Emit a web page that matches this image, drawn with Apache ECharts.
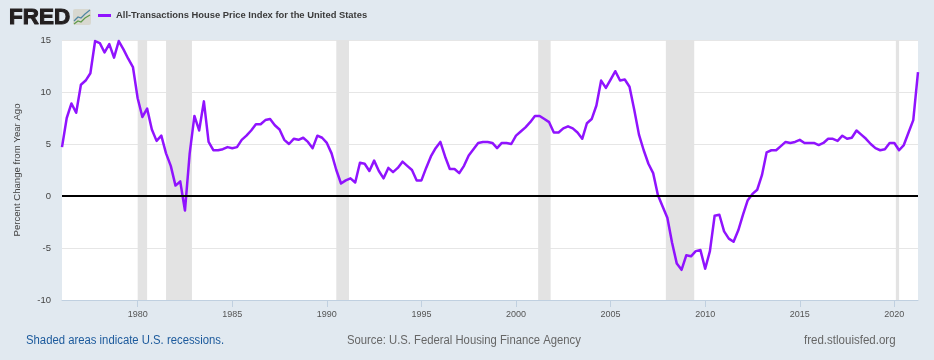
<!DOCTYPE html>
<html>
<head>
<meta charset="utf-8">
<title>All-Transactions House Price Index</title>
<style>
  html, body { margin: 0; padding: 0; background: #e1e9f0; }
  #chart { width: 934px; height: 360px; }
</style>
<script src="https://cdn.jsdelivr.net/npm/echarts@6/dist/echarts.min.js"></script>
</head>
<body>
<div id="chart"></div>
<script>
// percent change from year ago, quarterly, 1976 Q1 onward
const hpiValues = [
  4.7, 7.5, 8.9, 8.0, 10.7, 11.1, 11.8, 14.9, 14.7, 13.8, 14.6, 13.3,
  14.9, 14.1, 13.2, 12.4, 9.4, 7.6, 8.4, 6.4, 5.3, 5.8, 4.1, 2.9,
  1.0, 1.4, -1.4, 4.1, 7.7, 6.3, 9.1, 5.2, 4.4, 4.4, 4.5, 4.7,
  4.6, 4.7, 5.4, 5.8, 6.3, 6.9, 6.9, 7.3, 7.4, 6.8, 6.4, 5.4,
  5.0, 5.5, 5.4, 5.6, 5.2, 4.6, 5.8, 5.6, 5.1, 4.1, 2.5, 1.2,
  1.5, 1.7, 1.3, 3.2, 3.1, 2.4, 3.4, 2.4, 1.7, 2.7, 2.3, 2.7,
  3.3, 2.9, 2.5, 1.5, 1.5, 2.7, 3.8, 4.6, 5.2, 3.8, 2.6, 2.6,
  2.2, 2.9, 3.9, 4.5, 5.1, 5.2, 5.2, 5.1, 4.6, 5.1, 5.1, 5.0,
  5.8, 6.2, 6.6, 7.1, 7.7, 7.7, 7.4, 7.1, 6.1, 6.1, 6.5, 6.7,
  6.5, 6.1, 5.5, 7.0, 7.4, 8.7, 11.1, 10.4, 11.2, 12.0, 11.1, 11.2,
  10.5, 8.3, 5.9, 4.4, 3.1, 2.2, 0.1, -1.0, -2.1, -4.5, -6.5, -7.1,
  -5.7, -5.8, -5.3, -5.2, -7.0, -5.3, -1.9, -1.8, -3.4, -4.1, -4.4, -3.3,
  -1.8, -0.4, 0.2, 0.6, 2.0, 4.2, 4.4, 4.4, 4.8, 5.2, 5.1, 5.2,
  5.4, 5.1, 5.1, 5.1, 4.9, 5.1, 5.5, 5.5, 5.3, 5.8, 5.5, 5.6,
  6.3, 5.9, 5.5, 5.0, 4.6, 4.4, 4.5, 5.1, 5.1, 4.4, 4.9, 6.1,
  7.3, 11.9
];
// recession start/end as decimal years
const recessions = [
  [1980.0, 1980.5],
  [1981.5, 1982.87],
  [1990.5, 1991.17],
  [2001.17, 2001.83],
  [2007.92, 2009.42],
  [2020.08, 2020.25],
];
const tickYears = [1980, 1985, 1990, 1995, 2000, 2005, 2010, 2015, 2020];
const seriesName = "All-Transactions House Price Index for the United States";

const startYear = 1976;
const points = hpiValues.map((v, i) => [startYear + i / 4, v]);

const chart = echarts.init(document.getElementById("chart"), null, { renderer: "canvas" });
chart.setOption({
  animation: false,
  backgroundColor: "#e1e9f0",
  textStyle: { fontFamily: "Liberation Sans" },
  grid: {
    left: 62,
    right: 16,
    top: 40,
    bottom: 60,
    show: true,
    backgroundColor: "#ffffff",
    borderWidth: 0,
  },
  legend: {
    data: [seriesName],
    left: 93,
    top: 6,
    itemWidth: 13,
    itemHeight: 3,
    itemGap: 2,
    icon: "rect",
    textStyle: { fontSize: 9.4, fontWeight: "bold", color: "#3b3b3b", fontFamily: "Liberation Sans" },
  },
  xAxis: {
    type: "value",
    min: 1976,
    max: 2021.25,
    axisLine: { show: true, onZero: false, lineStyle: { color: "#c0d0e0", width: 1 } },
    axisTick: {
      show: true,
      length: 7,
      lineStyle: { color: "#c0d0e0", width: 1 },
      customValues: tickYears,
    },
    axisLabel: {
      color: "#555555",
      fontSize: 9,
      margin: 10,
      customValues: tickYears,
      formatter: (value) => String(value),
    },
    splitLine: { show: false },
  },
  yAxis: {
    type: "value",
    min: -10,
    max: 15,
    interval: 5,
    name: "Percent Change from Year Ago",
    nameLocation: "middle",
    nameRotate: 90,
    nameGap: 40,
    nameTextStyle: { fontSize: 9.6, color: "#444444" },
    axisLine: { show: false },
    axisTick: { show: false },
    axisLabel: { color: "#444444", fontSize: 9.5, margin: 11, padding: [2, 0, 0, 0] },
    splitLine: { show: true, lineStyle: { color: "#e6e6e6", width: 1 } },
  },
  series: [
    {
      name: "Recessions",
      type: "line",
      data: [],
      z: 1,
      silent: true,
      markArea: {
        silent: true,
        itemStyle: { color: "#e3e3e3" },
        data: recessions.map(([from, to]) => [{ xAxis: from }, { xAxis: to }]),
      },
    },
    {
      name: seriesName,
      type: "line",
      data: points,
      z: 3,
      symbol: "none",
      smooth: false,
      clip: true,
      lineStyle: { color: "#9013fe", width: 2.5, join: "round" },
      itemStyle: { color: "#9013fe" },
    },
    {
      name: "Zero",
      type: "line",
      data: [],
      z: 4,
      silent: true,
      markLine: {
        silent: true,
        symbol: "none",
        label: { show: false },
        lineStyle: { color: "#000000", width: 2, type: "solid" },
        data: [{ yAxis: 0 }],
      },
    },
  ],
  graphic: [
    {
      type: "text",
      x: 9,
      y: 7,
      scaleX: 1.02,
      style: {
        text: "FRED",
        fontFamily: "Liberation Sans",
        fontWeight: "bold",
        fontSize: 22,
        fill: "#231f20",
        stroke: "#231f20",
        lineWidth: 1,
      },
    },
    { type: "rect", shape: { x: 73, y: 9, width: 18, height: 16, r: 2 }, style: { fill: "#d8d8d0" } },
    {
      type: "polyline",
      shape: { points: [[74, 21], [78, 17], [81, 18], [85, 14], [90, 10]] },
      style: { fill: null, stroke: "#4f86a3", lineWidth: 1.2 },
    },
    {
      type: "polyline",
      shape: { points: [[74, 24], [78, 21], [81, 22], [85, 18], [90, 15]] },
      style: { fill: null, stroke: "#5f9a4a", lineWidth: 1.2 },
    },
    {
      type: "text",
      x: 26,
      y: 335,
      scaleX: 0.943,
      style: { text: "Shaded areas indicate U.S. recessions.", fontFamily: "Liberation Sans", fontSize: 12, fill: "#1c5a9c" },
    },
    {
      type: "text",
      x: 347,
      y: 335,
      scaleX: 0.94,
      style: { text: "Source: U.S. Federal Housing Finance Agency", fontFamily: "Liberation Sans", fontSize: 12, fill: "#666666" },
    },
    {
      type: "text",
      x: 804,
      y: 335,
      scaleX: 0.96,
      style: { text: "fred.stlouisfed.org", fontFamily: "Liberation Sans", fontSize: 12, fill: "#666666" },
    },
  ],
});
</script>
</body>
</html>
